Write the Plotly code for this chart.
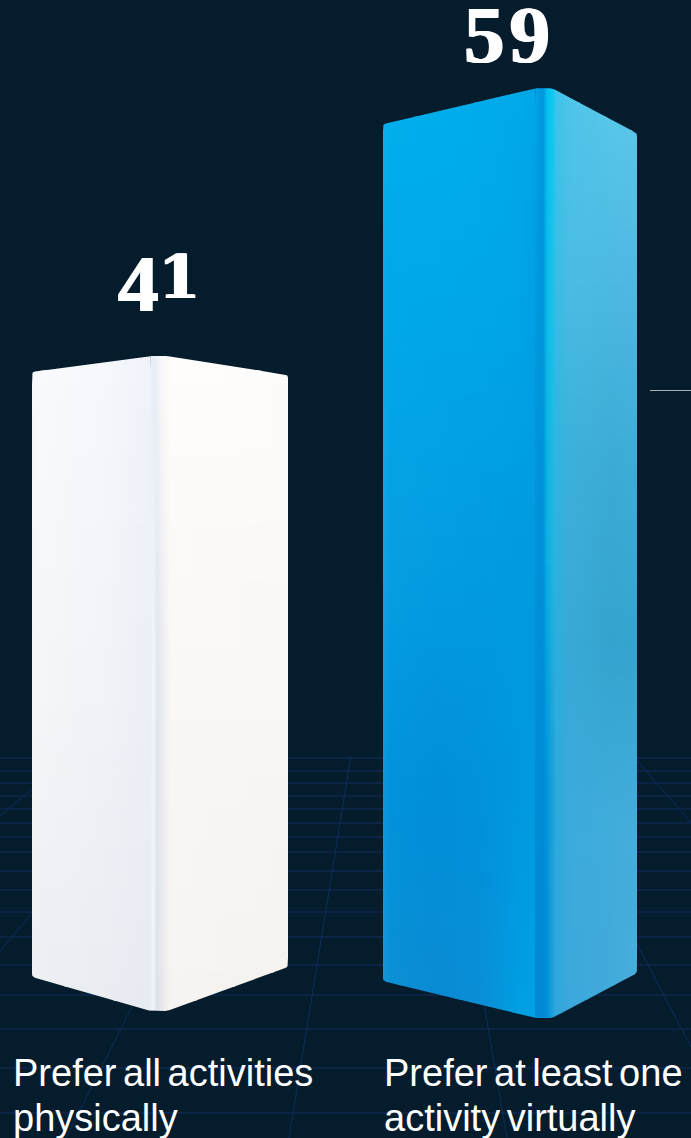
import plotly.graph_objects as go

# Survey shares and their labels
categories = ["Prefer all activities<br>physically", "Prefer at least one<br>activity virtually"]
values = [41, 59]
value_labels = [
    '4<span style="font-size:60px;font-family:DejaVu Serif;baseline-shift:13px">1</span>',
    '<span style="letter-spacing:5px">59</span>',
]

# Receding floor grid behind the columns
floor_rows = [758, 771, 783, 796, 809, 823, 837, 852, 871, 890, 912, 937, 965, 995, 1029, 1068, 1113]
floor_rays = [-383, -158, 66, 289, 507, 739, 967]

BG = "#051c2c"
GRID = "#0e2c5c"
WIDTH, HEIGHT = 691, 1138
UNIT = 15.76   # pixels per percentage point
ZERO = 1018    # pixel row of the value axis origin
BAND = 14      # height in pixels of one shading band on a column face

# Shading tables: rows run top to bottom, entries run left to right across a face
white_left = [
    ["#f6f8fb", "#f8fafd", "#f5f8fc", "#eff3f9"],
    ["#f3f5f9", "#f4f6f9", "#f0f3f7", "#ecf0f6"],
    ["#edeff3", "#ebeef2", "#e9ecf1", "#e7ebf1"],
]
white_ridge = [
    ["#eef3fa", "#e6ecf5", "#ecf0f7", "#f9f9fa", "#fdfcfa"],
    ["#e9eef6", "#f4f7fb", "#e1e6ee", "#e9ebee", "#faf8f6"],
    ["#e5eaf2", "#f2f5f9", "#dde2ea", "#e8e9ec", "#f6f4f0"],
]
white_right = [
    ["#fefdfb", "#fdfcfa"],
    ["#f9f8f5", "#f8f7f3"],
    ["#f6f4f0", "#f4f2ee"],
]
blue_left = [
    ["#0fb0ec", "#02aeeb", "#00aeeb", "#00acea", "#00a9e8", "#00a6e7"],
    ["#0aa9e8", "#00a8e8", "#00a7e8", "#00a6e7", "#00a4e6", "#009fe3"],
    ["#1aa3e4", "#079fe2", "#049de1", "#029be0", "#009ae0", "#009ae0"],
    ["#1296dc", "#0093db", "#008fd8", "#0092da", "#0098de", "#0098df"],
    ["#1a97da", "#0d8fd4", "#0a8bd3", "#0b8ed6", "#009fe2", "#00a2e4"],
]
blue_ridge = [
    ["#02a4e6", "#0095dc", "#00c0ee", "#1ccbf0"],
    ["#0099dd", "#0094da", "#0abbe8", "#28c0ea"],
    ["#0092da", "#0090d8", "#08b0e2", "#2ab4e2"],
    ["#008dd8", "#008ad4", "#0096da", "#2aa4dc"],
    ["#0088d2", "#0088d2", "#0090d8", "#2ca6dc"],
]
blue_right = [
    ["#3cc4ec", "#50c5ea", "#58c8ea", "#5ec8ea"],
    ["#38bce6", "#4abde4", "#4db9e1", "#50b8e2"],
    ["#2fb4e0", "#3cb0da", "#3bacd6", "#3eacd8"],
    ["#2aafdd", "#38a9d6", "#34a4cf", "#36a3cf"],
    ["#2aaadc", "#3cabdb", "#40acdb", "#44addb"],
    ["#2fa6dc", "#3ca8db", "#40a9da", "#4aaedc"],
]

# Where each table's columns sit across the width of its face
white_left_at = [0, 0.08, 0.6, 1]
white_ridge_at = [0, 0.15, 0.35, 0.6, 1]
white_right_at = [0, 1]
blue_left_at = [0, 0.05, 0.35, 0.65, 0.9, 1]
blue_ridge_at = [0, 0.4, 0.6, 1]
blue_right_at = [0, 0.2, 0.65, 1]

# Column placement: face boundaries, corner offsets and label positions
columns = [
    dict(left=32, ridge_l=150, ridge_r=170, right=288, floor_px=1011, persp=1.0137,
         top_l=16, top_r=19, bot_l=34, bot_r=44, label_x=159, label_shift=25, text_x=11,
         faces=((white_left, white_left_at), (white_ridge, white_ridge_at), (white_right, white_right_at))),
    dict(left=383, ridge_l=535, ridge_r=555, right=637, floor_px=1018, persp=1.0,
         top_l=36, top_r=45, bot_l=37, bot_r=45, label_x=509, label_shift=6, text_x=382,
         faces=((blue_left, blue_left_at), (blue_ridge, blue_ridge_at), (blue_right, blue_right_at))),
]


def rounded(points, radius=5, steps=5):
    """Polygon vertices with softened corners."""
    out = []
    n = len(points)
    for i, (x, y) in enumerate(points):
        px, py = points[i - 1]
        nx, ny = points[(i + 1) % n]
        d1 = ((px - x) ** 2 + (py - y) ** 2) ** 0.5
        d2 = ((nx - x) ** 2 + (ny - y) ** 2) ** 0.5
        r1, r2 = min(radius, d1 / 2), min(radius, d2 / 2)
        a = (x + (px - x) * r1 / d1, y + (py - y) * r1 / d1)
        b = (x + (nx - x) * r2 / d2, y + (ny - y) * r2 / d2)
        for k in range(steps + 1):
            t = k / steps
            out.append((
                (1 - t) ** 2 * a[0] + 2 * t * (1 - t) * x + t ** 2 * b[0],
                (1 - t) ** 2 * a[1] + 2 * t * (1 - t) * y + t ** 2 * b[1],
            ))
    return out


def clip(poly, axis, limit, keep_above):
    """Sutherland-Hodgman clip of a polygon against one axis-aligned line."""
    out = []
    for i, cur in enumerate(poly):
        prev = poly[i - 1]
        cur_in = (cur[axis] >= limit) == keep_above or cur[axis] == limit
        prev_in = (prev[axis] >= limit) == keep_above or prev[axis] == limit
        if cur_in != prev_in:
            t = (limit - prev[axis]) / (cur[axis] - prev[axis])
            out.append((prev[0] + (cur[0] - prev[0]) * t, prev[1] + (cur[1] - prev[1]) * t))
        if cur_in:
            out.append(cur)
    return out


def rgb(hex_color):
    return [int(hex_color[i:i + 2], 16) for i in (1, 3, 5)]


def blend_rows(table, t):
    """Colour stops across a face at fraction t of its height."""
    pos = t * (len(table) - 1)
    i = min(int(pos), len(table) - 2)
    f = pos - i
    stops = []
    for a, b in zip(table[i], table[i + 1]):
        ca, cb = rgb(a), rgb(b)
        stops.append("rgb({},{},{})".format(*[round(u + (v - u) * f) for u, v in zip(ca, cb)]))
    return stops


def paint_face(fig, outline, xa, xb, table, at, y_min, y_max):
    """Fill one face as stacked bands, each carrying a left-to-right gradient."""
    span = y_max - y_min
    row = y_max
    while row > y_min:
        lower = row - BAND - 1.0   # one pixel of overlap hides seams
        band = clip(clip(clip(clip(outline, 0, xa, True), 0, xb, False), 1, lower, True), 1, row, False)
        if len(band) >= 3:
            stops = blend_rows(table, min(1.0, (y_max - (row - BAND / 2)) / span))
            fig.add_trace(go.Scatter(
                x=[p[0] for p in band] + [band[0][0]],
                y=[p[1] / UNIT for p in band] + [band[0][1] / UNIT],
                yaxis="y2", mode="lines", line=dict(width=0), fill="toself",
                fillgradient=dict(type="horizontal", start=xa, stop=xb,
                                  colorscale=[[p, c] for p, c in zip(at, stops)]),
                hoverinfo="skip", showlegend=False,
            ))
        row -= BAND


fig = go.Figure()

# Floor grid and leader line sit on the pixel-scaled axis beneath the columns
VANISH_X, VANISH_Y, FLOOR_TOP = 395, 484, 757
for row in floor_rows:
    fig.add_trace(go.Scatter(x=[0, WIDTH], y=[row, row], mode="lines",
                             line=dict(color=GRID, width=1), hoverinfo="skip", showlegend=False))
for ray in floor_rays:
    start_x = VANISH_X + (ray - VANISH_X) * (FLOOR_TOP - VANISH_Y) / (HEIGHT - VANISH_Y)
    fig.add_trace(go.Scatter(x=[start_x, ray], y=[FLOOR_TOP, HEIGHT], mode="lines",
                             line=dict(color=GRID, width=1), hoverinfo="skip", showlegend=False))
fig.add_trace(go.Scatter(x=[650, WIDTH], y=[390.5, 390.5], mode="lines",
                         line=dict(color="#a9b0b5", width=1), hoverinfo="skip", showlegend=False))

annotations = []
LINE_TOPS = [1050, 1095]
for col, value, label, cat in zip(columns, values, value_labels, categories):
    base = ZERO - col["floor_px"]
    apex = base + value * col["persp"] * UNIT
    l, rl, rr, r = col["left"], col["ridge_l"], col["ridge_r"], col["right"]
    outline = rounded([
        (l, apex - col["top_l"]), (rl + 1, apex), (rr - 3, apex), (r, apex - col["top_r"]),
        (r, base + col["bot_r"]), (rr - 3, base), (rl + 1, base), (l, base + col["bot_l"]),
    ], radius=3)

    # Each face is bounded by the column value at its top and the floor at its bottom
    left_face, ridge_face, right_face = col["faces"]
    paint_face(fig, outline, l - 1, rl + 0.5, *left_face, base, apex)
    paint_face(fig, outline, rr - 0.5, r + 1, *right_face, base, apex)
    paint_face(fig, outline, rl, rr, *ridge_face, base, apex)

    annotations.append(dict(
        x=col["label_x"], y=apex / UNIT, xref="x", yref="y2", yanchor="bottom", xanchor="center",
        yshift=col["label_shift"], showarrow=False, text=label,
        font=dict(family="Liberation Serif", size=81, color="white", weight="bold",
                  shadow="1px 0 0 #ffffff, -1px 0 0 #ffffff"),
    ))
    for line, top in zip(cat.split("<br>"), LINE_TOPS):
        annotations.append(dict(
            x=col["text_x"], y=top, xref="x", yref="y", yanchor="top", xanchor="left", align="left",
            showarrow=False, text=f'<span style="word-spacing:-4px">{line}</span>',
            font=dict(family="Liberation Sans", size=38, color="white"),
        ))

fig.update_layout(
    width=WIDTH, height=HEIGHT, margin=dict(l=0, r=0, t=0, b=0),
    paper_bgcolor=BG, plot_bgcolor=BG, showlegend=False,
    xaxis=dict(range=[0, WIDTH], visible=False, fixedrange=True),
    yaxis=dict(range=[HEIGHT, 0], visible=False, fixedrange=True),
    yaxis2=dict(range=[(ZERO - HEIGHT) / UNIT, ZERO / UNIT], overlaying="y", visible=False, fixedrange=True),
    annotations=annotations,
)
fig.write_html("out.html", config=dict(displayModeBar=False))
